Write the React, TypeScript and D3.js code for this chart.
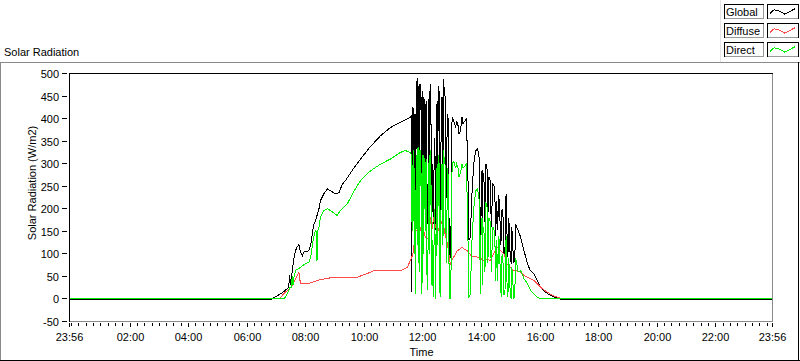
import React from "react";
import * as d3 from "d3";

// ---------- data ----------
const xTickMinutes = [-4, 120, 240, 360, 480, 600, 720, 840, 960, 1080, 1200, 1320, 1436];
const xTickLabels = ["23:56", "02:00", "04:00", "06:00", "08:00", "10:00", "12:00", "14:00", "16:00", "18:00", "20:00", "22:00", "23:56"];
const yTicks = [-50, 0, 50, 100, 150, 200, 250, 300, 350, 400, 450, 500];

const seriesNames = ["Global", "Diffuse", "Direct"];
const seriesColors = ["#000000", "#ff4a4a", "#00ee00"];

// [minutes since midnight, W/m2]
const globalSeries: [number, number][] = [
  [-4, -2], [408, -2], [418, 5], [428, 11], [438, 19], [445, 26], [447, 52], [449, 30], [452, 59], [455, 85],
  [459, 107], [462, 115], [466, 121], [469, 104], [473, 96], [476, 104], [486, 107], [490, 118], [493, 141],
  [496, 163], [500, 174], [507, 200], [510, 218], [517, 233], [524, 244], [531, 240], [541, 233], [548, 236],
  [555, 255], [561, 262], [575, 285], [592, 310], [610, 335], [633, 362], [653, 380], [674, 392], [694, 403],
  [696, 405], [697, 15], [698, 314], [699, 425], [701, 420], [702, 200], [703, 410], [705, 166], [706, 470],
  [707, 484], [708, 300], [709, 491], [710, 470], [711, 462], [712, 250], [713, 470], [714, 476], [715, 420],
  [716, 447], [717, 300], [718, 181], [719, 440], [720, 462], [721, 300], [722, 447], [723, 420], [724, 285],
  [726, 430], [727, 440], [728, 250], [730, 166], [731, 400], [733, 462], [734, 300], [735, 476], [736, 460],
  [738, 189], [739, 300], [741, 166], [742, 250], [744, 358], [745, 300], [746, 152], [748, 400], [749, 440],
  [750, 300], [752, 473], [753, 460], [755, 137], [757, 350], [759, 447], [760, 440], [761, 300], [762, 488],
  [763, 470], [765, 462], [766, 400], [768, 225], [769, 350], [771, 410], [772, 380], [774, 93], [777, 93],
  [779, 380], [780, 403], [783, 395], [787, 380], [789, 395], [792, 384], [794, 366], [797, 373], [800, 403],
  [802, 388], [806, 395], [809, 399], [812, 285], [814, 130], [817, 137], [820, 225], [824, 299], [828, 329],
  [832, 333], [835, 314], [838, 137], [841, 285], [842, 180], [843, 280], [845, 262], [847, 170], [849, 299],
  [852, 285], [853, 180], [855, 270], [858, 262], [860, 160], [863, 255], [867, 248], [869, 140], [871, 218],
  [873, 152], [875, 230], [877, 211], [879, 120], [881, 137], [882, 200], [884, 181], [886, 100], [888, 107],
  [889, 220], [891, 233], [892, 150], [894, 93], [896, 180], [897, 137], [899, 90], [901, 78], [902, 160],
  [904, 115], [906, 80], [908, 85], [910, 165], [912, 159], [915, 152], [920, 137], [927, 107], [934, 78],
  [940, 63], [947, 56], [954, 41], [961, 26], [971, 15], [981, 8], [995, 2], [1005, -2], [1436, -2],
];

const diffuseSeries: [number, number][] = [
  [-4, 0], [425, 0], [432, 8], [438, 15], [445, 20], [452, 30], [459, 45], [464, 55], [466, 59], [469, 34],
  [486, 34], [503, 41], [531, 47], [555, 48], [585, 48], [605, 56], [620, 63], [674, 63], [688, 70], [694, 85],
  [698, 95], [701, 107], [703, 144], [706, 152], [710, 150], [714, 160], [718, 144], [722, 150], [725, 137],
  [729, 135], [732, 130], [735, 181], [738, 150], [742, 181], [746, 160], [749, 166], [752, 150], [756, 174],
  [760, 165], [763, 159], [766, 140], [770, 122], [773, 100], [776, 78], [780, 88], [783, 93], [787, 100],
  [790, 107], [795, 110], [800, 115], [805, 110], [811, 107], [816, 100], [821, 93], [826, 95], [831, 93],
  [838, 90], [845, 85], [852, 88], [858, 85], [865, 100], [872, 115], [876, 110], [879, 107], [886, 100],
  [892, 78], [899, 70], [906, 63], [913, 62], [920, 59], [927, 52], [934, 48], [940, 45], [947, 41], [954, 34],
  [961, 26], [968, 20], [975, 15], [985, 8], [995, 4], [1005, 0], [1436, 0],
];

const directSeries: [number, number][] = [
  [-4, 0], [435, 0], [438, 4], [445, 19], [448, 26], [451, 25], [452, 50], [454, 30], [456, 50], [459, 63],
  [469, 70], [479, 78], [486, 81], [490, 92], [493, 115], [496, 137], [500, 152], [502, 150], [503, 85],
  [504, 150], [507, 159], [510, 181], [517, 196], [524, 200], [531, 196], [544, 185], [551, 196], [565, 211],
  [585, 251], [592, 262], [610, 282], [633, 299], [653, 310], [674, 325], [684, 329], [694, 325], [696, 320],
  [697, 200], [698, 150], [699, 280], [701, 330], [702, 100], [703, 290], [705, 10], [706, 300], [707, 320],
  [708, 120], [709, 330], [710, 336], [711, 300], [712, 60], [713, 310], [714, 330], [715, 250], [716, 280],
  [717, 80], [718, 10], [719, 300], [720, 320], [721, 100], [722, 320], [723, 280], [725, 150], [726, 300],
  [727, 310], [728, 60], [730, 20], [731, 260], [733, 320], [734, 100], [735, 325], [736, 330], [738, 30],
  [739, 130], [741, 5], [742, 80], [744, 200], [745, 120], [746, 0], [748, 250], [749, 300], [750, 120],
  [752, 320], [753, 300], [755, 5], [757, 200], [759, 300], [760, 290], [761, 120], [762, 330], [763, 315],
  [765, 310], [766, 250], [768, 80], [769, 180], [771, 290], [772, 250], [774, 0], [777, 0], [779, 260],
  [780, 300], [783, 305], [787, 290], [789, 300], [792, 290], [794, 270], [797, 280], [800, 300], [802, 290],
  [806, 295], [809, 300], [812, 150], [814, 5], [817, 10], [820, 120], [824, 200], [828, 240], [832, 244],
  [835, 220], [838, 10], [839, 150], [841, 180], [842, 30], [843, 160], [845, 150], [847, 60], [849, 214],
  [852, 200], [853, 80], [855, 180], [858, 170], [860, 60], [863, 160], [867, 150], [869, 40], [871, 130],
  [873, 40], [875, 140], [877, 120], [879, 20], [881, 5], [882, 100], [884, 80], [886, 10], [888, 10],
  [889, 120], [891, 140], [892, 40], [894, 5], [896, 90], [897, 50], [899, 10], [901, 0], [902, 70], [904, 40],
  [906, 0], [908, 10], [910, 90], [912, 80], [915, 60], [920, 63], [927, 45], [934, 34], [940, 20], [947, 11],
  [954, 4], [961, 0], [1436, 0],
];

const allSeries = [globalSeries, diffuseSeries, directSeries];

// ---------- component ----------
export default function App() {
  const W = 800;
  const H = 361;
  const left = 69, right = 772, top = 73, bottom = 321;
  const x = d3.scaleLinear().domain([-4, 1436]).range([left + 0.5, right + 0.5]);
  const y = d3.scaleLinear().domain([-50, 500]).range([bottom + 0.5, top + 0.5]);
  const line = d3
    .line<[number, number]>()
    .x((d) => x(d[0]))
    .y((d) => y(d[1]));

  const minorTicks = d3.range(0, 1440, 15);
  const font = "'Liberation Sans', Arial, sans-serif";

  const legendRows = [4, 23, 42];
  const sampleShape: [number, number][] = [
    [0, 0.7], [0.15, 0.3], [0.35, 0.45], [0.55, 0.8], [0.92, 0.2],
  ];
  const sampleLine = d3
    .line<[number, number]>()
    .x((d) => 770 + d[0] * 27)
    .y((d) => d[1] * 9);

  return (
    <svg
      width={W}
      height={H}
      style={{ position: "fixed", left: 0, top: 0, display: "block", background: "#fff" }}
      fontFamily={font}
    >
      <rect x={0} y={0} width={W} height={H} fill="#fff" />
      {/* panel border */}
      <line x1={0} x2={800} y1={62.5} y2={62.5} stroke="#8a8a8a" />
      <line x1={0.5} x2={0.5} y1={62} y2={361} stroke="#8a8a8a" />
      <line x1={0} x2={800} y1={360.5} y2={360.5} stroke="#000" />
      <line x1={798.5} x2={798.5} y1={62} y2={361} stroke="#000" />
      <line x1={720.5} x2={720.5} y1={0} y2={62} stroke="#e4e4e4" />

      {/* title */}
      <text x={4} y={56} fontSize={11} fill="#000">Solar Radiation</text>

      {/* legend */}
      {seriesNames.map((name, i) => {
        const ty = legendRows[i];
        return (
          <g key={name}>
            <rect x={724.5} y={ty + 0.5} width={39} height={14} fill="#fff" stroke="#000" />
            <line x1={725} x2={763} y1={ty + 14.5} y2={ty + 14.5} stroke="#9a9a9a" />
            <line x1={763.5} x2={763.5} y1={ty + 1} y2={ty + 15} stroke="#9a9a9a" />
            <text x={726} y={ty + 11.5} fontSize={11} fill="#000">{name}</text>
            <rect x={767.5} y={ty + 0.5} width={31} height={14} fill="#fff" stroke="#000" />
            <line x1={768} x2={798} y1={ty + 14.5} y2={ty + 14.5} stroke="#9a9a9a" />
            <path
              d={sampleLine(sampleShape) || ""}
              transform={`translate(0, ${ty + 3})`}
              fill="none"
              stroke={seriesColors[i]}
              strokeWidth={1}
              shapeRendering="crispEdges"
            />
          </g>
        );
      })}

      {/* plot series */}
      <g shapeRendering="crispEdges">
        {allSeries.map((s, i) => (
          <path key={i} d={line(s) || ""} fill="none" stroke={seriesColors[i]} strokeWidth={1} />
        ))}
      </g>

      {/* plot frame */}
      <line x1={left + 0.5} x2={right + 1} y1={top + 0.5} y2={top + 0.5} stroke="#000" />
      <line x1={left + 0.5} x2={left + 0.5} y1={top} y2={bottom + 1} stroke="#000" />
      <line x1={right + 0.5} x2={right + 0.5} y1={top + 1} y2={bottom + 1} stroke="#8a8a8a" />
      <line x1={left + 1} x2={right + 1} y1={bottom + 0.5} y2={bottom + 0.5} stroke="#8a8a8a" />

      {/* y axis */}
      {yTicks.map((t) => {
        const yy = Math.round(y(t) - 0.5) + 0.5;
        return (
          <g key={t}>
            <line x1={62} x2={67} y1={yy} y2={yy} stroke="#000" />
            <text x={59} y={yy} fontSize={11} textAnchor="end" dominantBaseline="central" fill="#000">
              {t}
            </text>
          </g>
        );
      })}
      <text
        transform={`translate(36, 183) rotate(-90)`}
        fontSize={11}
        textAnchor="middle"
        fill="#000"
      >
        Solar Radiation (W/m2)
      </text>

      {/* x axis */}
      {minorTicks.map((m) => {
        const xx = Math.round(x(m) - 0.5) + 0.5;
        return <line key={m} x1={xx} x2={xx} y1={bottom + 2} y2={bottom + 5} stroke="#000" />;
      })}
      {xTickMinutes.map((m, i) => {
        const xx = Math.round(x(m) - 0.5) + 0.5;
        return (
          <g key={i}>
            <line x1={xx} x2={xx} y1={bottom + 2} y2={bottom + 6} stroke="#000" />
            <text x={xx} y={341} fontSize={11} textAnchor="middle" fill="#000">
              {xTickLabels[i]}
            </text>
          </g>
        );
      })}
      <text x={(left + right) / 2 + 1} y={356} fontSize={11} textAnchor="middle" fill="#000">
        Time
      </text>
    </svg>
  );
}
